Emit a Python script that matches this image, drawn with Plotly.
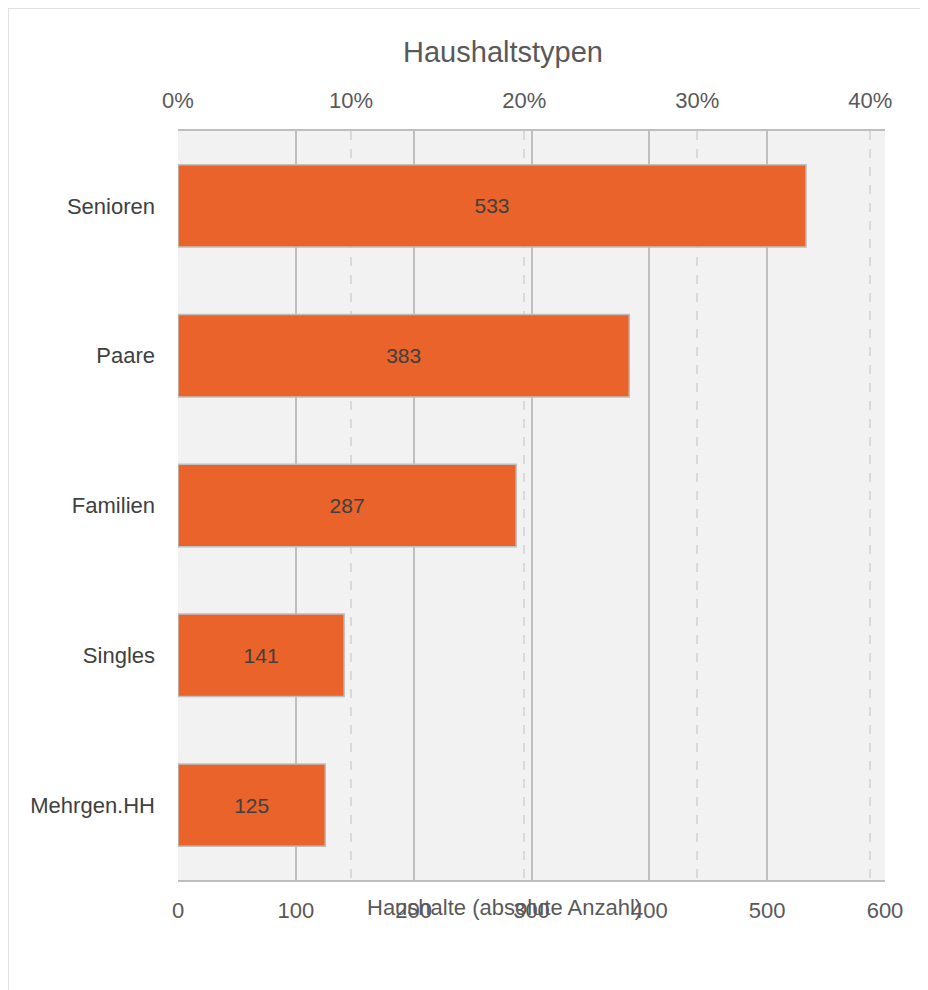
import plotly.graph_objects as go

categories = ["Senioren", "Paare", "Familien", "Singles", "Mehrgen.HH"]
values = [533, 383, 287, 141, 125]
title = "Haushaltstypen"
x_title = "Haushalte (absolute Anzahl)"

total = sum(values)
shares = [v / total for v in values]

FONT = "Liberation Sans, Arial, sans-serif"
OFF = 8  # page body margin
W, H = 920, 982
L, R, T, B = 170, 43, 123, 110
pw = W - L - R
ph = H - T - B

fig = go.Figure()
fig.add_trace(go.Bar(
    y=categories, x=values, orientation="h",
    marker=dict(color="#E9632A", line=dict(color="#BFBFBF", width=1.5)),
    text=[str(v) for v in values], textposition="inside",
    insidetextanchor="middle", textangle=0,
    textfont=dict(family=FONT, size=21, color="#404040"),
    hoverinfo="skip", showlegend=False,
))
fig.add_trace(go.Scatter(
    y=categories, x=shares, xaxis="x2", mode="markers",
    marker=dict(opacity=0), hoverinfo="skip", showlegend=False,
))

def px_x(p):
    return (p - OFF - L) / pw

def px_y(p):
    return 1 - (p - OFF - T) / ph

fig.update_layout(
    width=W, height=H,
    margin=dict(l=L, r=R, t=T, b=B),
    paper_bgcolor="white", plot_bgcolor="#F2F2F2",
    bargap=0.45,
    title=dict(text=title, x=(503 - OFF) / W, xanchor="center", y=1 - (52 - OFF) / H, yanchor="middle",
               font=dict(family=FONT, size=29, color="#595959")),
    xaxis=dict(range=[0, 600], dtick=100, showgrid=True, gridcolor="#BFBFBF", gridwidth=1.5,
               zeroline=False, showline=True, linecolor="#BFBFBF", linewidth=1.5, mirror=True,
               ticks="", tickfont=dict(family=FONT, size=22, color="#595959"), ticklabelstandoff=10),
    xaxis2=dict(range=[0, 600 / total], overlaying="x", side="top", tickformat=".0%", dtick=0.1,
                showgrid=True, gridcolor="#D9D9D9", gridwidth=1.5, griddash="dash",
                zeroline=False, showline=False, ticks="",
                tickfont=dict(family=FONT, size=22, color="#595959"), ticklabelstandoff=18),
    yaxis=dict(categoryorder="array", categoryarray=categories[::-1],
               showgrid=False, showline=False, ticks="", ticklabelstandoff=22,
               tickfont=dict(family=FONT, size=22, color="#404040")),
)

fig.add_annotation(text=x_title, xref="paper", yref="paper", x=px_x(504), y=px_y(907),
                   xanchor="center", yanchor="middle", showarrow=False,
                   font=dict(family=FONT, size=22, color="#595959"))

# outer chart border (top and left)
fig.add_shape(type="line", xref="paper", yref="paper", x0=px_x(8), x1=px_x(928), y0=px_y(8), y1=px_y(8),
              line=dict(color="#D9D9D9", width=1.5), layer="below")
fig.add_shape(type="line", xref="paper", yref="paper", x0=px_x(8), x1=px_x(8), y0=px_y(8), y1=px_y(990),
              line=dict(color="#D9D9D9", width=1.5), layer="below")

fig.write_html("out.html")
